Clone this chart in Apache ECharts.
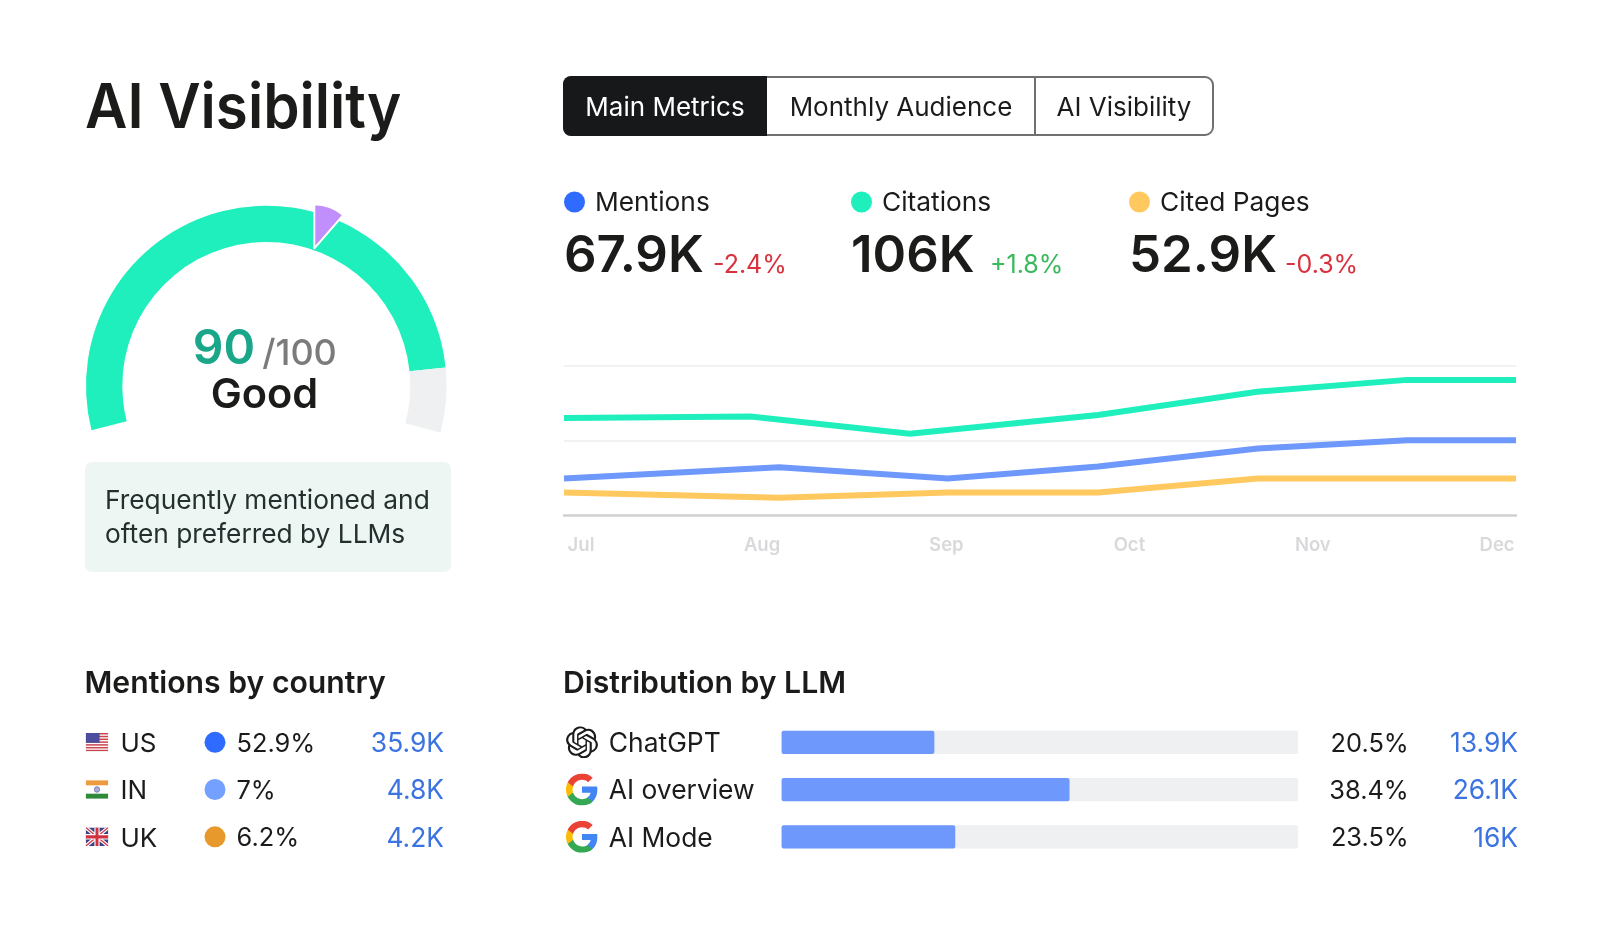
<!DOCTYPE html>
<html><head><meta charset="utf-8">
<style>html,body{margin:0;padding:0;background:#fff}#main{width:1600px;height:934px}</style>
<script src="https://cdn.jsdelivr.net/npm/echarts@6/dist/echarts.min.js"></script>
</head><body><div id="main"></div>
<script>
// ---- data ----
const tabs = ['Main Metrics', 'Monthly Audience', 'AI Visibility'];
const score = 90;
const scoreMax = 100;
const scoreLabel = 'Good';
const noteLines = ['Frequently mentioned and', 'often preferred by LLMs'];
const metricNames = ['Mentions', 'Citations', 'Cited Pages'];
const metricValues = ['67.9K', '106K', '52.9K'];
const metricDeltas = ['-2.4%', '+1.8%', '-0.3%'];
const months = ['Jul', 'Aug', 'Sep', 'Oct', 'Nov', 'Dec'];
const monthTicks = [0, 0.987, 1.992, 2.99, 3.99, 4.995];
const citationsLine = [[-0.093,130],[0.924,132],[1.793,109],[2.819,134],[3.688,165],[4.504,181],[5.098,181]];
const mentionsLine  = [[-0.093,49],[1.08,64],[2.0,49],[2.82,65],[3.69,89],[4.504,100],[5.098,100]];
const pagesLine     = [[-0.093,30],[1.08,23],[2.0,30],[2.82,30],[3.69,49],[4.504,49],[5.098,49]];
const countries = ['US', 'IN', 'UK'];
const countryShare = ['52.9%', '7%', '6.2%'];
const countryCount = ['35.9K', '4.8K', '4.2K'];
const llmNames = ['ChatGPT', 'AI overview', 'AI Mode'];
const llmShare = ['20.5%', '38.4%', '23.5%'];
const llmCount = ['13.9K', '26.1K', '16K'];
const llmValues = [13.9, 26.2, 15.8];

// ---- style ----
const F = 'Inter, "Noto Sans", sans-serif';
const INK = '#1b1c1a';
const TEAL = '#1FEFBC', BLUE = '#6E98FB', YEL = '#FFC95F';
const rows = [742.3, 789.5, 836.8];
const svg = s => 'data:image/svg+xml;charset=utf-8,' + encodeURIComponent(s);
const flagUS = svg('<svg xmlns="http://www.w3.org/2000/svg" viewBox="0 0 26 20"><rect width="26" height="20" fill="#fff"/>'
  + [0,3,6,9,12,15,18].map(y=>`<rect y="${y}" width="26" height="1.6" fill="#c8444f"/>`).join('')
  + '<rect width="16" height="10.5" fill="#4d4da0"/></svg>');
const flagIN = svg('<svg xmlns="http://www.w3.org/2000/svg" viewBox="0 0 26 20"><rect width="26" height="20" fill="#fff"/><rect width="26" height="5.5" fill="#ee9a3e"/><rect y="14.5" width="26" height="5.5" fill="#2f8a3a"/><circle cx="13" cy="10" r="3" fill="#aab0d8" stroke="#5a5fa8" stroke-width="0.8"/></svg>');
const flagUK = svg('<svg xmlns="http://www.w3.org/2000/svg" viewBox="0 0 26 20"><rect width="26" height="20" fill="#3c3f82"/><path d="M0 0L26 20M26 0L0 20" stroke="#fff" stroke-width="4"/><path d="M0 0L26 20M26 0L0 20" stroke="#d04050" stroke-width="1.5"/><path d="M13 0V20M0 10H26" stroke="#fff" stroke-width="6"/><path d="M13 0V20M0 10H26" stroke="#d03040" stroke-width="3.4"/></svg>');
const iconGoogle = svg('<svg xmlns="http://www.w3.org/2000/svg" viewBox="1 1 22 22"><path fill="#4285F4" d="M22.56 12.25c0-.78-.07-1.53-.2-2.25H12v4.26h5.92c-.26 1.37-1.04 2.53-2.21 3.31v2.77h3.57c2.08-1.92 3.28-4.74 3.28-8.09z"/><path fill="#34A853" d="M12 23c2.97 0 5.46-.98 7.28-2.66l-3.57-2.77c-.98.66-2.23 1.06-3.71 1.06-2.86 0-5.29-1.93-6.16-4.53H2.18v2.84C3.99 20.53 7.7 23 12 23z"/><path fill="#FBBC05" d="M5.84 14.09c-.22-.66-.35-1.36-.35-2.09s.13-1.43.35-2.09V7.07H2.18C1.43 8.55 1 10.22 1 12s.43 3.45 1.18 4.93l2.85-2.22.81-.62z"/><path fill="#EA4335" d="M12 5.38c1.62 0 3.06.56 4.21 1.64l3.15-3.15C17.45 2.09 14.97 1 12 1 7.7 1 3.99 3.47 2.18 7.07l3.66 2.84c.87-2.6 3.3-4.53 6.16-4.53z"/></svg>');
const iconGPT = svg('<svg xmlns="http://www.w3.org/2000/svg" viewBox="0 0 24 24"><path fill="#1b1c1a" d="M22.2819 9.8211a5.9847 5.9847 0 0 0-.5157-4.9108 6.0462 6.0462 0 0 0-6.5098-2.9A6.0651 6.0651 0 0 0 4.9807 4.1818a5.9847 5.9847 0 0 0-3.9977 2.9 6.0462 6.0462 0 0 0 .7427 7.0966 5.98 5.98 0 0 0 .511 4.9107 6.051 6.051 0 0 0 6.5146 2.9001A5.9847 5.9847 0 0 0 13.2599 24a6.0557 6.0557 0 0 0 5.7718-4.2058 5.9894 5.9894 0 0 0 3.9977-2.9001 6.0557 6.0557 0 0 0-.7475-7.0729zm-9.022 12.6081a4.4755 4.4755 0 0 1-2.8764-1.0408l.1419-.0804 4.7783-2.7582a.7948.7948 0 0 0 .3927-.6813v-6.7369l2.02 1.1686a.071.071 0 0 1 .038.052v5.5826a4.504 4.504 0 0 1-4.4945 4.4944zm-9.6607-4.1254a4.4708 4.4708 0 0 1-.5346-3.0137l.142.0852 4.783 2.7582a.7712.7712 0 0 0 .7806 0l5.8428-3.3685v2.3324a.0804.0804 0 0 1-.0332.0615L9.74 19.9502a4.4992 4.4992 0 0 1-6.1408-1.6464zM2.3408 7.8956a4.485 4.485 0 0 1 2.3655-1.9728V11.6a.7664.7664 0 0 0 .3879.6765l5.8144 3.3543-2.0201 1.1685a.0757.0757 0 0 1-.071 0l-4.8303-2.7865A4.504 4.504 0 0 1 2.3408 7.872zm16.5963 3.8558L13.1038 8.364 15.1192 7.2a.0757.0757 0 0 1 .071 0l4.8303 2.7913a4.4944 4.4944 0 0 1-.6765 8.1042v-5.6772a.79.79 0 0 0-.407-.667zm2.0107-3.0231l-.142-.0852-4.7735-2.7818a.7759.7759 0 0 0-.7854 0L9.409 9.2297V6.8974a.0662.0662 0 0 1 .0284-.0615l4.8303-2.7866a4.4992 4.4992 0 0 1 6.6802 4.66zM8.3065 12.863l-2.02-1.1638a.0804.0804 0 0 1-.038-.0567V6.0742a4.4992 4.4992 0 0 1 7.3757-3.4537l-.142.0805L8.704 5.459a.7948.7948 0 0 0-.3927.6813zm1.0976-2.3654l2.602-1.4998 2.6069 1.4998v2.9994l-2.5974 1.5-2.6067-1.4997Z"/></svg>');

const T = (text, x, y, size, fill, weight, align) => ({
  type: 'text', silent: true, z: 10,
  style: { text, x, y: y + 2, fontFamily: F, fontSize: size, fontWeight: weight || 400, fill: fill || INK,
           textAlign: align || 'left', textVerticalAlign: 'middle' }
});
const IMG = (image, x, y, width, height) => ({ type: 'image', silent: true, z: 10, style: { image, x, y, width, height } });
const DOT = (cx, cy, r, fill) => ({ type: 'circle', silent: true, z: 10, shape: { cx, cy, r }, style: { fill } });

const metricX = [564, 851, 1129];
const deltaX = [713, 990, 1285];
const dotColors = [ '#2F6BFF', TEAL, YEL ];
const deltaColors = ['#D8323F', '#39B85C', '#D8323F'];
const countryDots = ['#2F6BFF', '#74A0FF', '#E8992C'];
const flags = [flagUS, flagIN, flagUK];
const icons = [iconGPT, iconGoogle, iconGoogle];

const titleText = T('AI Visibility', 85, 107, 62, INK, 600);
titleText.scaleX = 0.94; titleText.originX = 85; titleText.originY = 107;

const graphics = [
  titleText,
  // tab control
  { type: 'rect', silent: true, z: 9, shape: { x: 564, y: 77, width: 649, height: 58, r: 8 }, style: { fill: '#fff', stroke: '#6f7072', lineWidth: 2 } },
  { type: 'rect', silent: true, z: 9, shape: { x: 563, y: 76, width: 204, height: 60, r: [8, 0, 0, 8] }, style: { fill: '#17181A' } },
  { type: 'rect', silent: true, z: 9, shape: { x: 1034, y: 77, width: 2, height: 58 }, style: { fill: '#6f7072' } },
  T(tabs[0], 665, 106, 26, '#fff', 400, 'center'),
  T(tabs[1], 901, 106, 26, INK, 400, 'center'),
  T(tabs[2], 1124, 106, 26, INK, 400, 'center'),
  // gauge text
  T(String(score), 224, 348, 48, '#1AA688', 600, 'center'),
  T('/' + scoreMax, 299.5, 352, 36, '#7B7B7B', 500, 'center'),
  T(scoreLabel, 264.5, 394, 41.5, INK, 600, 'center'),
  // note box
  { type: 'rect', silent: true, z: 9, shape: { x: 85, y: 462, width: 366, height: 110, r: 7 }, style: { fill: '#EEF6F4' } },
  T(noteLines[0], 105, 499, 26.3, '#24302E'),
  T(noteLines[1], 105, 533, 26.3, '#24302E'),
  // section headings
  T('Mentions by country', 84.5, 682, 30.2, INK, 600),
  T('Distribution by LLM', 563, 682, 30.2, INK, 600)
];
metricNames.forEach((n, i) => {
  graphics.push(DOT(metricX[i] + 10.5, 202, 10.5, dotColors[i]));
  graphics.push(T(n, metricX[i] + 31, 201.5, 26.3));
  graphics.push(T(metricValues[i], metricX[i], 255, 51, INK, 600));
  graphics.push(T(metricDeltas[i], deltaX[i], 263, 25, deltaColors[i]));
});
countries.forEach((c, i) => {
  graphics.push(IMG(flags[i], 85.7, rows[i] - 9.3, 22.6, 18.6));
  graphics.push(T(c, 120.5, rows[i], 26));
  graphics.push(DOT(215, rows[i], 10.5, countryDots[i]));
  graphics.push(T(countryShare[i], 236.5, rows[i], 25.4));
  graphics.push(T(countryCount[i], 444, rows[i], 26.4, '#3B73E0', 400, 'right'));
});
llmNames.forEach((n, i) => {
  graphics.push(IMG(icons[i], 566, rows[i] - 16, 32, 32));
  graphics.push(T(n, 608.8, rows[i], 26.4));
  graphics.push(T(llmShare[i], 1408.8, rows[i], 25.4, INK, 400, 'right'));
  graphics.push(T(llmCount[i], 1518, rows[i], 26.4, '#3B73E0', 400, 'right'));
});

const lineSeries = (name, data, color) => ({
  name, type: 'line', data, xAxisIndex: 0, yAxisIndex: 0, showSymbol: false, silent: true,
  lineStyle: { color, width: 6, cap: 'butt', join: 'miter' }
});

const chart = echarts.init(document.getElementById('main'), null, { renderer: 'canvas' });
chart.setOption({
  animation: false,
  backgroundColor: '#fff',
  grid: [
    { left: 564, top: 365.7, width: 952, height: 149.3, containLabel: false },
    { left: 781.6, top: 718.7, width: 516.5, height: 141.8, containLabel: false }
  ],
  xAxis: [
    { type: 'value', gridIndex: 0, min: -0.093, max: 5.098,
      axisLine: { show: true, lineStyle: { color: '#D0D1D3', width: 2.5 } },
      axisTick: { show: false }, splitLine: { show: false },
      axisLabel: { customValues: monthTicks, formatter: v => months[Math.round(v)] || '',
                   margin: 21, color: '#D8D9DB', fontSize: 18.5, fontWeight: 600, fontFamily: F } },
    { type: 'value', gridIndex: 1, min: 0, max: 47, show: false }
  ],
  yAxis: [
    { type: 'value', gridIndex: 0, min: 0, max: 200, interval: 100,
      axisLine: { show: false }, axisTick: { show: false }, axisLabel: { show: false },
      splitLine: { show: true, lineStyle: { color: '#F1F2F3', width: 2 } } },
    { type: 'category', gridIndex: 1, data: llmNames, inverse: true,
      axisLine: { show: false }, axisTick: { show: false }, splitLine: { show: false },
      axisLabel: { show: false } }
  ],
  series: [
    { type: 'pie', center: [266.3, 386], radius: [144, 180.3], startAngle: 194.2, endAngle: -15,
      silent: true, label: { show: false }, labelLine: { show: false }, z: 2,
      data: [ { value: score, itemStyle: { color: TEAL } }, { value: scoreMax - score, itemStyle: { color: '#EFF0F1' } } ] },
    { type: 'pie', center: [314.3, 248.3], radius: [0, 44], startAngle: 90, endAngle: 49,
      silent: true, label: { show: false }, labelLine: { show: false }, z: 3,
      data: [ { value: 1, itemStyle: { color: '#C08FFB', borderColor: '#fff', borderWidth: 2 } } ] },
    lineSeries('Citations', citationsLine, TEAL),
    lineSeries('Mentions', mentionsLine, BLUE),
    lineSeries('Cited Pages', pagesLine, YEL),
    { type: 'bar', xAxisIndex: 1, yAxisIndex: 1, data: llmValues, barWidth: 23.3, silent: true,
      itemStyle: { color: '#6E98FB', borderRadius: 2 },
      showBackground: true, backgroundStyle: { color: '#EFF0F1', borderRadius: 2 } }
  ],
  graphic: graphics
});
</script></body></html>
